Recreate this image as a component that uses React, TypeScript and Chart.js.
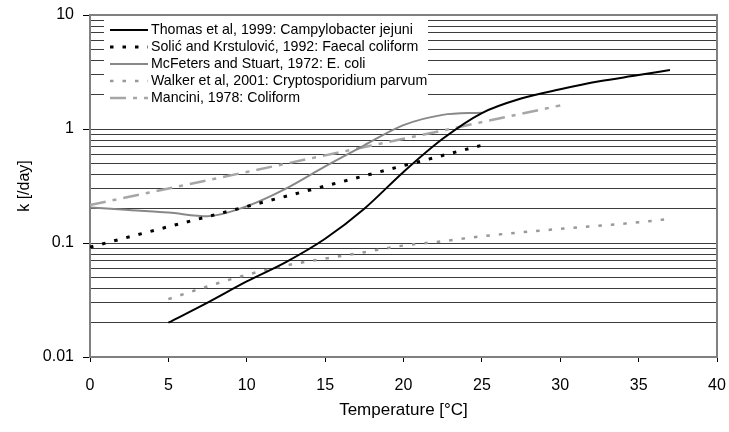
import React, { useEffect, useRef } from "react";
import { Chart, registerables } from "chart.js";

Chart.register(...registerables);

// ---- data ----
const thomasX = [5, 7.5, 10, 12.5, 15, 17.5, 20, 22.5, 25, 27.5, 30, 32.5, 35, 37];
const thomasY = [0.02, 0.03, 0.046, 0.068, 0.109, 0.2, 0.42, 0.82, 1.38, 1.85, 2.23, 2.62, 2.97, 3.3];

const solicX = [0, 5, 10, 15, 20, 25];
const solicY = [0.092, 0.139, 0.209, 0.316, 0.477, 0.72];

const mcfetersX = [0, 2.5, 5, 7.5, 10, 12.5, 15, 17.5, 20, 22.5, 25];
const mcfetersY = [0.205, 0.195, 0.185, 0.172, 0.21, 0.3, 0.47, 0.72, 1.08, 1.33, 1.39];

const walkerX = [5, 7.5, 10, 12.5, 15, 17.5, 20, 22.5, 25, 30, 35, 37];
const walkerY = [0.0322, 0.0416, 0.0526, 0.0634, 0.073, 0.083, 0.095, 0.1035, 0.1146, 0.133, 0.152, 0.163];

const manciniX = [0, 10, 20, 30];
const manciniY = [0.215, 0.42, 0.82, 1.61];

const seriesLabels = [
  "Thomas et al, 1999: Campylobacter jejuni",
  "Solić and Krstulović, 1992: Faecal coliform",
  "McFeters and Stuart, 1972: E. coli",
  "Walker et al, 2001: Cryptosporidium parvum",
  "Mancini, 1978: Coliform",
];

const yLabelTicks = [0.01, 0.1, 1, 10];
const yLabelText = ["0.01", "0.1", "1", "10"];
const yDecades = [0.01, 0.1, 1];
const ySignificands = [1, 2, 3, 4, 5, 6, 7, 8, 9];

const xMin = 0;
const xMax = 40;
const xStep = 5;

const FONT = "'Liberation Sans', Arial, sans-serif";

const pts = (xs: number[], ys: number[]) => xs.map((x, i) => ({ x, y: ys[i] }));

const frameLegendPlugin = {
  id: "frameLegend",
  beforeDatasetsDraw(chart: any) {
    const { ctx, chartArea: a } = chart;
    ctx.save();
    // plot frame
    ctx.strokeStyle = "#808080";
    ctx.lineWidth = 2;
    ctx.strokeRect(a.left, a.top, a.right - a.left, a.bottom - a.top);
    // legend box
    const bx = a.left + 14;
    const by = a.top + 4;
    const bw = 324;
    const bh = 89;
    ctx.fillStyle = "#ffffff";
    ctx.fillRect(bx, by, bw, bh);
    ctx.font = "14.2px " + FONT;
    ctx.textBaseline = "middle";
    ctx.textAlign = "left";
    chart.data.datasets.forEach((ds: any, i: number) => {
      const cy = by + 11 + i * 17;
      ctx.save();
      ctx.strokeStyle = ds.borderColor;
      ctx.lineWidth = ds.borderWidth;
      ctx.setLineDash(ds.borderDash || []);
      ctx.beginPath();
      ctx.moveTo(bx + 6, cy);
      ctx.lineTo(bx + 44, cy);
      ctx.stroke();
      ctx.restore();
      ctx.fillStyle = "#000";
      ctx.fillText(ds.label, bx + 47, cy);
    });
    ctx.restore();
  },
};

export default function App() {
  const canvasRef = useRef<HTMLCanvasElement | null>(null);

  useEffect(() => {
    if (!canvasRef.current) return;
    const yGrid: number[] = [];
    yDecades.forEach((d) => ySignificands.forEach((s) => yGrid.push(+(d * s).toPrecision(3))));
    yGrid.push(10);

    const chart = new Chart(canvasRef.current, {
      type: "line",
      data: {
        datasets: [
          {
            label: seriesLabels[0],
            data: pts(thomasX, thomasY),
            borderColor: "#000000",
            borderWidth: 2,
            cubicInterpolationMode: "monotone",
            pointRadius: 0,
          },
          {
            label: seriesLabels[1],
            data: pts(solicX, solicY),
            borderColor: "#000000",
            borderWidth: 3,
            borderDash: [3.5, 9],
            pointRadius: 0,
          },
          {
            label: seriesLabels[2],
            data: pts(mcfetersX, mcfetersY),
            borderColor: "#888888",
            borderWidth: 2,
            cubicInterpolationMode: "monotone",
            pointRadius: 0,
          },
          {
            label: seriesLabels[3],
            data: pts(walkerX, walkerY),
            borderColor: "#999999",
            borderWidth: 2.5,
            borderDash: [3.5, 9],
            cubicInterpolationMode: "monotone",
            pointRadius: 0,
          },
          {
            label: seriesLabels[4],
            data: pts(manciniX, manciniY),
            borderColor: "#a6a6a6",
            borderWidth: 2.5,
            borderDash: [16, 7, 4, 7],
            pointRadius: 0,
          },
        ] as any,
      },
      options: {
        responsive: false,
        animation: false,
        devicePixelRatio: 1,
        layout: { padding: { left: 0, top: 15, right: 12, bottom: 0 } },
        plugins: { legend: { display: false }, tooltip: { enabled: false } },
        scales: {
          x: {
            type: "linear",
            min: xMin,
            max: xMax,
            afterFit: (s: any) => {
              s.height = 75;
              s.paddingLeft = 0;
              s.paddingRight = 0;
            },
            ticks: {
              stepSize: xStep,
              padding: 14,
              color: "#000",
              font: { family: FONT, size: 16 },
            },
            grid: {
              drawOnChartArea: false,
              drawTicks: true,
              tickLength: 5,
              tickColor: "#000",
            },
            border: { color: "#808080", width: 2 },
            title: {
              display: true,
              text: "Temperature [°C]",
              color: "#000",
              font: { family: FONT, size: 17 },
              padding: { top: 0, bottom: 11 },
            },
          },
          y: {
            type: "logarithmic",
            min: 0.01,
            max: 10,
            afterFit: (s: any) => {
              s.width = 90;
              s.paddingTop = 0;
              s.paddingBottom = 0;
            },
            afterBuildTicks: (s: any) => {
              s.ticks = yGrid.map((v) => ({ value: v }));
            },
            ticks: {
              autoSkip: false,
              padding: 9,
              color: "#000",
              font: { family: FONT, size: 16 },
              callback: (v: any) => {
                const idx = yLabelTicks.findIndex((t) => Math.abs(t - Number(v)) < 1e-9);
                return idx >= 0 ? yLabelText[idx] : "";
              },
            },
            grid: {
              color: "#3c3c3c",
              lineWidth: 1,
              drawTicks: true,
              tickLength: 7,
              tickColor: (c: any) => {
                const v = c.tick ? c.tick.value : NaN;
                return yLabelTicks.some((t) => Math.abs(t - v) < 1e-9) ? "#000" : "rgba(0,0,0,0)";
              },
            },
            border: { color: "#808080", width: 2 },
            title: {
              display: true,
              text: "k [/day]",
              color: "#000",
              font: { family: FONT, size: 16 },
              padding: { top: 15, bottom: 0 },
            },
          },
        },
      } as any,
      plugins: [frameLegendPlugin],
    });
    return () => chart.destroy();
  }, []);

  return (
    <div style={{ position: "absolute", left: 0, top: 0, width: 729, height: 432, background: "#fff" }}>
      <canvas ref={canvasRef} width={729} height={432} />
    </div>
  );
}
